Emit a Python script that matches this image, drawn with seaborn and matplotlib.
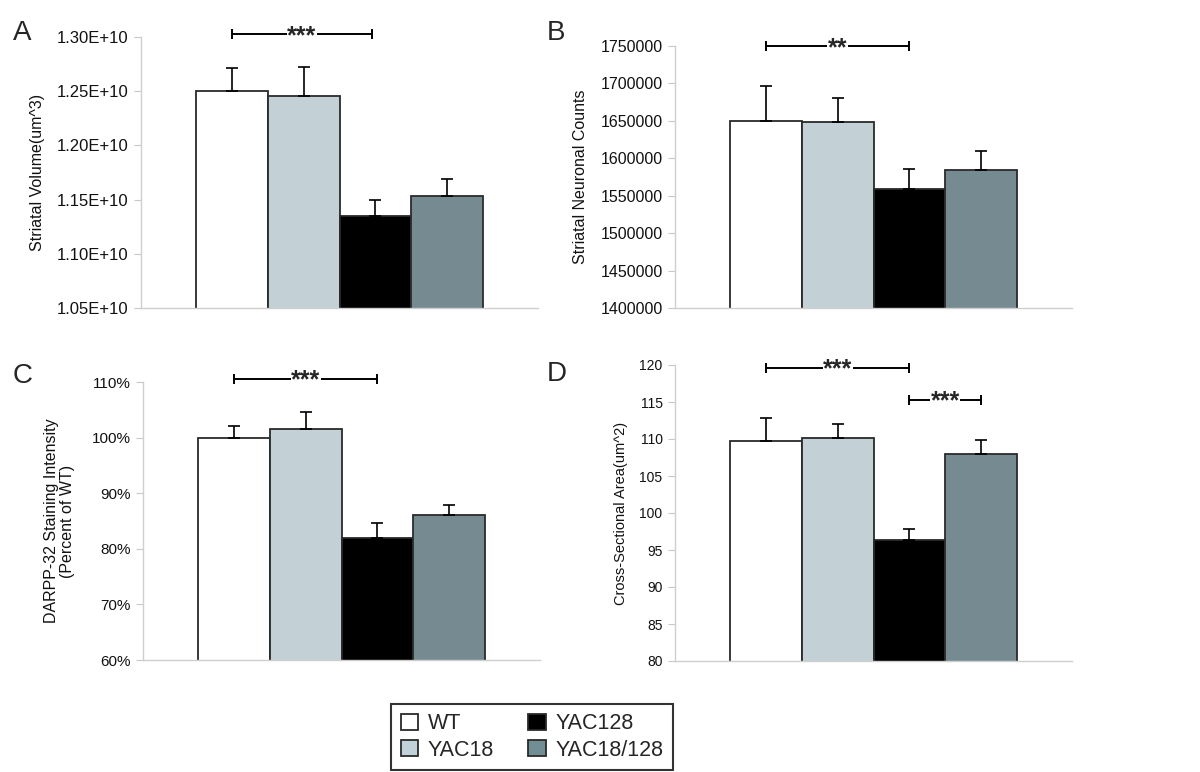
import numpy as np
import pandas as pd
import matplotlib
matplotlib.use("Agg")
import matplotlib.pyplot as plt
from matplotlib.patches import Patch
from matplotlib.ticker import FuncFormatter
import seaborn as sns

# data
groups = ["WT", "YAC18", "YAC128", "YAC18/128"]
colors = ["#FFFFFF", "#C0D1D9", "#000000", "#718E95"]

volume = [1.250e10, 1.246e10, 1.1346e10, 1.1533e10]
volume_err = [0.021e10, 0.026e10, 0.0154e10, 0.0154e10]

neurons = [1650000, 1648000, 1559000, 1584000]
neurons_err = [46000, 32500, 26500, 25500]

darpp = [100.0, 101.6, 82.0, 86.0]
darpp_err = [2.0, 3.0, 2.6, 1.9]

area = [109.7, 110.2, 96.3, 108.0]
area_err = [3.2, 1.8, 1.5, 1.9]

sns.set_style("white")
plt.rcParams["font.family"] = ["Liberation Sans", "DejaVu Sans"]

fig = plt.figure(figsize=(12, 7.72), dpi=100)

W = 397 / 1200
panels = [
    # letter, values, errors, ylim, ticks, fmt, ylabel, rect, tick size, label size, label x
    ("A", volume, volume_err, (1.05e10, 1.30e10), np.arange(1.05e10, 1.31e10, 0.05e10),
     lambda v, p: f"{v:.2E}", "Striatal Volume(um^3)",
     [141 / 1200, 1 - 308 / 772, W, 271 / 772], 12, 11.5, -0.242),
    ("B", neurons, neurons_err, (1400000, 1750000), np.arange(1400000, 1750001, 50000),
     lambda v, p: f"{v:.0f}", "Striatal Neuronal Counts",
     [675 / 1200, 1 - 308 / 772, W, 262 / 772], 11.5, 11.5, -0.219),
    ("C", darpp, darpp_err, (60, 110), np.arange(60, 111, 10),
     lambda v, p: f"{v:.0f}%", "DARPP-32 Staining Intensity\n(Percent of WT)",
     [143 / 1200, 1 - 660 / 772, W, 278 / 772], 11, 11.5, -0.171),
    ("D", area, area_err, (80, 120), np.arange(80, 121, 5),
     lambda v, p: f"{v:.0f}", "Cross-Sectional Area(um^2)",
     [675 / 1200, 1 - 661 / 772, W, 296 / 772], 10, 10.5, -0.118),
]

letter_pos = {"A": (22, 33), "B": (556, 33), "C": (23, 376), "D": (557, 374)}

axes = {}
for letter, vals, errs, ylim, ticks, fmt, ylabel, rect, tsize, lsize, lx in panels:
    ax = fig.add_axes(rect)
    df = pd.DataFrame({"group": groups, "value": vals})
    sns.barplot(data=df, x="group", y="value", hue="group", order=groups,
                hue_order=groups, palette=colors, width=1.0, errorbar=None,
                edgecolor="#2a2a2a", linewidth=1.3, legend=False, ax=ax)
    ax.errorbar(range(len(groups)), vals, yerr=[np.zeros(len(errs)), errs],
                fmt="none", ecolor="black", elinewidth=1.2, capsize=4,
                capthick=1.2, zorder=1)
    ax.set_xlim(-1.27, 4.27)
    ax.set_ylim(*ylim)
    ax.set_yticks(ticks)
    ax.yaxis.set_major_formatter(FuncFormatter(fmt))
    ax.tick_params(axis="y", which="major", left=True, length=5, width=0.8,
                   color="#c8c8c8", labelsize=tsize, labelcolor="#111111", pad=4)
    ax.tick_params(axis="x", bottom=False, labelbottom=False)
    ax.set_xlabel("")
    ax.set_ylabel(ylabel, fontsize=lsize, color="#111111", linespacing=1.1)
    ax.yaxis.set_label_coords(lx, 0.5)
    for s in ["top", "right"]:
        ax.spines[s].set_visible(False)
    for s in ["left", "bottom"]:
        ax.spines[s].set_color("#cfcfcf")
        ax.spines[s].set_linewidth(1.0)
    lx_px, ly_px = letter_pos[letter]
    fig.text(lx_px / 1200, 1 - ly_px / 772, letter, fontsize=20,
             ha="center", va="center")
    axes[letter] = ax


def sig_bar(ax, x1, x2, y, stars):
    ax.plot([x1, x2], [y, y], color="black", lw=1.4, marker="|", ms=7,
            mew=1.4, clip_on=False, zorder=5)
    ax.annotate(stars, xy=((x1 + x2) / 2, y), xytext=(0, -6.5),
                textcoords="offset points", ha="center", va="baseline",
                fontsize=18, fontweight="bold", annotation_clip=False,
                bbox=dict(boxstyle="square,pad=0.02", fc="white", ec="none"),
                zorder=6)


sig_bar(axes["A"], 0, 1.95, 1.3025e10, "***")
sig_bar(axes["B"], 0, 2, 1750000, "**")
sig_bar(axes["C"], 0, 2, 110.6, "***")
sig_bar(axes["D"], 0, 2, 119.65, "***")
sig_bar(axes["D"], 2, 3, 115.3, "***")

handles = [Patch(facecolor=c, edgecolor="#2a2a2a", linewidth=1.3) for c in colors]
leg = fig.legend(handles, groups, loc="center", ncol=2,
                 bbox_to_anchor=(532 / 1200, 1 - 737 / 772), fontsize=15.5,
                 frameon=True, fancybox=False, edgecolor="black",
                 handlelength=0.8, handleheight=0.8, handletextpad=0.45,
                 columnspacing=1.6, labelspacing=0.25, borderpad=0.45)
leg.get_frame().set_linewidth(1.5)

fig.savefig("out.png", dpi=100, facecolor="white")
